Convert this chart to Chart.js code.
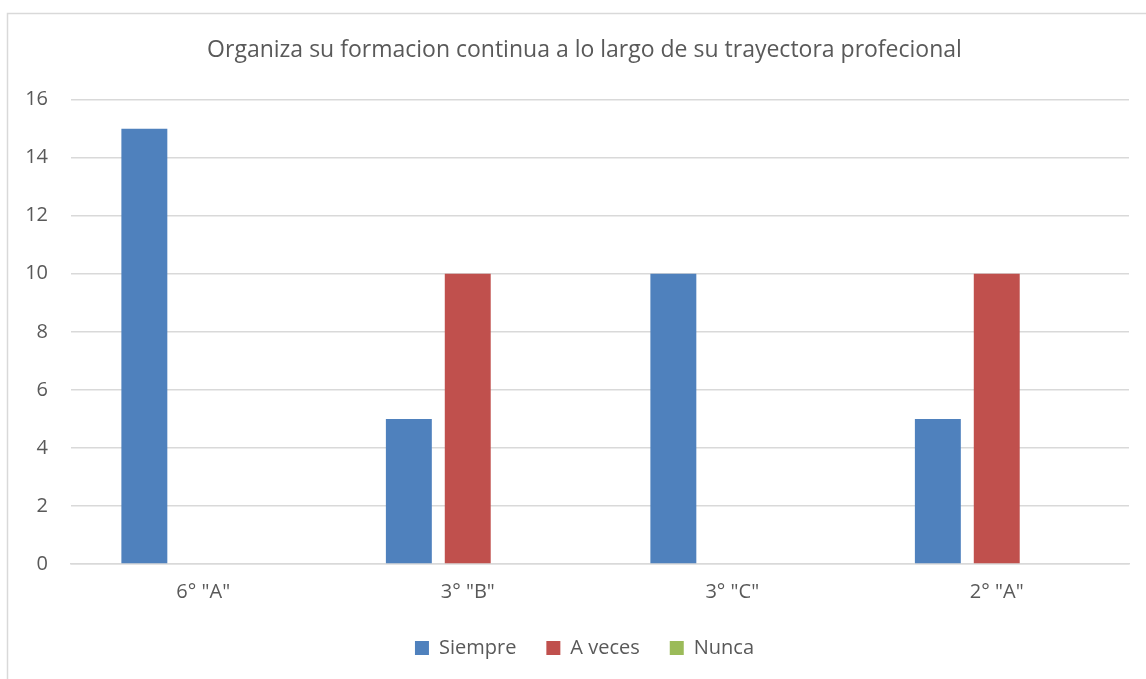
<!DOCTYPE html>
<html>
<head>
<meta charset="utf-8">
<script src="https://cdn.jsdelivr.net/npm/chart.js@4"></script>
<style>
  html, body { margin: 0; padding: 0; background: #ffffff; }
  #wrap { width: 1146px; height: 679px; position: relative; }
</style>
</head>
<body>
<div id="wrap"><canvas id="barChart"></canvas></div>
<script>
// Chart data
const grupos = ['6° "A"', '3° "B"', '3° "C"', '2° "A"'];
const siempre = [15, 5, 10, 5];
const aVeces = [0, 10, 0, 10];
const nunca = [0, 0, 0, 0];
const yTicks = [0, 2, 4, 6, 8, 10, 12, 14, 16];

const textColor = '#595959';
const fontFamily = '"Open Sans", "Noto Sans", sans-serif';

// light grey frame like the Excel chart area,
// title and legend centred on the frame rather than the canvas
const framePlugin = {
  id: 'frame',
  afterLayout(chart) {
    const shift = 20;
    [chart.titleBlock, chart.legend].forEach(box => {
      if (box) {
        box.left += shift;
        box.right += shift;
      }
    });
  },
  beforeDraw(chart) {
    const ctx = chart.ctx;
    ctx.save();
    ctx.fillStyle = '#ffffff';
    ctx.fillRect(0, 0, chart.width, chart.height);
    ctx.strokeStyle = '#d9d9d9';
    ctx.lineWidth = 1.5;
    ctx.strokeRect(7.5, 13.5, chart.width + 20, chart.height + 20);
    ctx.restore();
  }
};

const ctx = document.getElementById('barChart');
new Chart(ctx, {
  type: 'bar',
  data: {
    labels: grupos,
    datasets: [
      { label: 'Siempre', data: siempre, backgroundColor: '#4f81bd' },
      { label: 'A veces', data: aVeces, backgroundColor: '#c0504d' },
      { label: 'Nunca', data: nunca, backgroundColor: '#9bbb59' }
    ]
  },
  options: {
    responsive: true,
    maintainAspectRatio: false,
    animation: false,
    datasets: {
      bar: { categoryPercentage: 0.668, barPercentage: 0.78 }
    },
    layout: {
      padding: { left: 0, right: 17, top: 37, bottom: 11 }
    },
    scales: {
      x: {
        grid: { display: false },
        border: { display: true, color: '#d9d9d9', width: 1.5 },
        ticks: { color: textColor, font: { family: fontFamily, size: 20 }, padding: 8 },
        afterFit(axis) {
          axis.height -= 4;
        }
      },
      y: {
        min: 0,
        max: 16,
        afterBuildTicks(axis) {
          axis.ticks = yTicks.map(v => ({ value: v }));
        },
        afterFit(axis) {
          axis.width = 71;
        },
        grid: { color: '#d9d9d9', lineWidth: 1.5, drawTicks: false },
        border: { display: false },
        ticks: { color: textColor, font: { family: fontFamily, size: 20 }, padding: 23 }
      }
    },
    plugins: {
      title: {
        display: true,
        text: 'Organiza su formacion continua a lo largo de su trayectora profecional',
        color: textColor,
        font: { family: fontFamily, size: 23, weight: 'normal' },
        padding: { top: 0, bottom: 35 }
      },
      legend: {
        position: 'bottom',
        labels: {
          color: textColor,
          font: { family: fontFamily, size: 20 },
          boxWidth: 14,
          boxHeight: 14,
          padding: 30
        }
      },
      tooltip: { enabled: false }
    }
  },
  plugins: [framePlugin]
});
</script>
</body>
</html>
